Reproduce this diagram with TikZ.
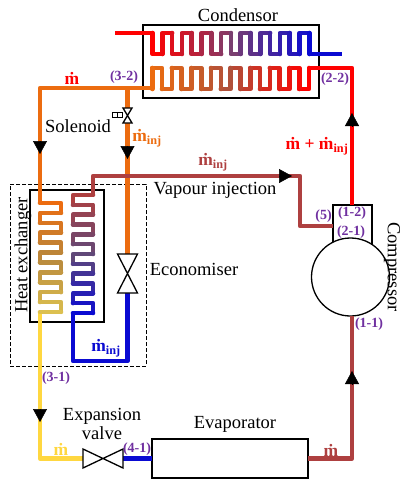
\documentclass[tikz,border=0pt]{standalone}
\usepackage{fontspec}
\setmainfont{Liberation Serif}
\usetikzlibrary{arrows.meta}
\definecolor{hotred}{HTML}{FF0000}
\definecolor{coldblue}{HTML}{0A0AD2}
\definecolor{pipeorange}{HTML}{EC6C10}
\definecolor{pipebrown}{HTML}{AE4040}
\definecolor{pipeyellow}{HTML}{FFD740}
\definecolor{coilyellow}{HTML}{DCC050}
\definecolor{topmid}{HTML}{7A3F70}
\definecolor{lowmid}{HTML}{B0503A}
\definecolor{leftmid}{HTML}{B8883C}
\definecolor{rightmid}{HTML}{604878}
\definecolor{statepurple}{HTML}{7030A0}
\tikzset{
  pipe/.style={line width=4.4pt,line join=round},
  coil/.style={line width=4.6pt,line cap=round,line join=round},
  box/.style={draw,line width=1.3pt,inner sep=0pt,outer sep=0pt},
  valve/.style={inner sep=0pt,outer sep=0pt},
  flow/.style={-{Triangle[length=13pt,width=14pt]},line width=.5pt},
  title/.style={inner sep=0pt,align=center,font=\fontsize{18.5}{19}\selectfont},
  flowrate/.style={inner sep=0pt,font=\fontsize{17.5}{19}\selectfont\bfseries},
  state/.style={inner sep=0pt,text=statepurple,font=\fontsize{14}{15}\selectfont\bfseries}
}
% colour runs along the coil, one leg at a time
\newcommand{\legcolour}[5]{%
  \pgfmathsetmacro{\pct}{200*#1/#2}
  \ifdim\pct pt<100pt
    \colorlet{legcol}{#4!\pct!#3}
  \else
    \pgfmathsetmacro{\pctb}{\pct-100}
    \colorlet{legcol}{#5!\pctb!#4}
  \fi}
\newcommand{\vcoil}[8]{%
  \foreach \i in {0,...,#4}{
    \legcolour{\i}{#4}{#1}{#2}{#3}
    \pgfmathsetmacro{\xa}{#5+\i*#6}
    \pgfmathsetmacro{\xb}{#5+(\i+1)*#6}
    \pgfmathsetmacro{\ya}{isodd(\i)?#8:#7}
    \pgfmathsetmacro{\yb}{isodd(\i)?#7:#8}
    \ifnum\i<#4
      \draw[coil,legcol] (\xa,\ya) -- (\xa,\yb) -- (\xb,\yb);
    \else
      \draw[coil,legcol] (\xa,\ya) -- (\xa,\yb);
    \fi
  }}
\newcommand{\hcoil}[8]{%
  \foreach \i in {0,...,#4}{
    \legcolour{\i}{#4}{#1}{#2}{#3}
    \pgfmathsetmacro{\ya}{#5+\i*#6}
    \pgfmathsetmacro{\yb}{#5+(\i+1)*#6}
    \pgfmathsetmacro{\xa}{isodd(\i)?#8:#7}
    \pgfmathsetmacro{\xb}{isodd(\i)?#7:#8}
    \ifnum\i<#4
      \draw[coil,legcol] (\xa,\ya) -- (\xb,\ya) -- (\xb,\yb);
    \else
      \draw[coil,legcol] (\xa,\ya) -- (\xb,\ya);
    \fi
  }}
\newcommand{\valvecross}[1]{%
  \draw[line width=1.3pt,fill=white] (#1.north west) -- (#1.south east) -- (#1.south west) -- (#1.north east) -- cycle;}
\newcommand{\valvecrossh}[1]{%
  \draw[line width=1.3pt,fill=white] (#1.north west) -- (#1.south east) -- (#1.north east) -- (#1.south west) -- cycle;}
\begin{document}
\begin{tikzpicture}[x=1pt,y=-1pt]
  \useasboundingbox (0,0) rectangle (401,479);
  % components
  \node[valve,minimum width=9pt,minimum height=15pt] (sol) at (127.5,115.5) {};
  \node[valve,minimum width=20pt,minimum height=39pt] (eco) at (127.5,273.5) {};
  \node[valve,minimum width=40pt,minimum height=19pt] (exp) at (103,458.5) {};
  \node[box,minimum width=176pt,minimum height=73pt] (cond) at (231,61.5) {};
  \node[box,minimum width=74pt,minimum height=132pt] (hx) at (67,256) {};
  \node[box,minimum width=156pt,minimum height=39pt] (evap) at (230,458.5) {};
  \node[box,fill=white,minimum width=39pt,minimum height=42pt] (inlet) at (352.5,226) {};
  \node[box,circle,fill=white,minimum size=78pt] (comp) at (350.5,277) {};
  \node[draw,dash pattern=on 4pt off 2pt,line width=.8pt,inner sep=0pt,minimum width=136pt,minimum height=182pt] (hxzone) at (78,275) {};
  % pipe ends
  \coordinate (hotin) at (115,33);
  \coordinate (hotout) at (342,54);
  \coordinate (coolin) at (309,68);
  \coordinate (coolout) at (152,88);
  \coordinate (split) at (127.5,88);
  \coordinate (leftcorner) at (40,88);
  \coordinate (liqin) at (40,203);
  \coordinate (liqout) at (40,312);
  \coordinate (liqcorner) at (40,458.5);
  \coordinate (injin) at (73,313);
  \coordinate (injcorner) at (73,361);
  \coordinate (injout) at (93,195);
  \coordinate (injbend) at (300,176);
  \coordinate (dis) at (352,205);
  \coordinate (discorner) at (352,68);
  \coordinate (suc) at (352,316);
  \coordinate (succorner) at (352,458.5);
  % arrows
  \coordinate (a1) at (40,141);
  \coordinate (a1t) at (40,154);
  \coordinate (a2) at (127.5,146);
  \coordinate (a2t) at (127.5,159);
  \coordinate (a3) at (40,409);
  \coordinate (a3t) at (40,422);
  \coordinate (a4) at (352,384);
  \coordinate (a4t) at (352,371);
  \coordinate (a5) at (352,126);
  \coordinate (a5t) at (352,113);
  \coordinate (a6) at (279,176);
  \coordinate (a6t) at (292,176);
  % pipes
  \draw[pipe,hotred] (hotin) -- (152.5,33);
  \draw[pipe,coldblue] (309,54) -- (hotout);
  \draw[pipe,hotred] (dis) -- (discorner) -- (coolin);
  \draw[pipe,pipeorange] (coolout) -- (leftcorner) -- (liqin);
  \draw[pipe,pipeorange] (split) -- (sol.north);
  \draw[pipe,pipeorange] (sol.south) -- (eco.north);
  \draw[pipe,pipeyellow] (liqout) -- (liqcorner) -- (exp.west);
  \draw[pipe,coldblue] (injin) -- (injcorner) -| (eco.south);
  \draw[pipe,coldblue] (exp.east) -- (evap.west);
  \draw[pipe,pipebrown] (injout) |- (injbend) |- (inlet.west);
  \draw[pipe,pipebrown] (evap.east) -- (succorner) -- (suc);
  % coils
  \vcoil{hotred}{topmid}{coldblue}{16}{152.5}{9.8}{33}{54}
  \vcoil{hotred}{lowmid}{pipeorange}{16}{309}{-9.8}{68}{89}
  \hcoil{pipeorange}{leftmid}{coilyellow}{11}{203}{9.9}{40}{61}
  \hcoil{pipebrown}{rightmid}{coldblue}{12}{195}{9.83}{93}{73}
  % valves
  \valvecross{sol}
  \valvecross{eco}
  \valvecrossh{exp}
  \node[draw,line width=.9pt,fill=white,inner sep=0pt,minimum width=10pt,minimum height=4.5pt] (solcoil) at (117,115) {};
  \draw[line width=.9pt] (solcoil.north) -- (solcoil.south);
  \draw[flow] (a1) -- (a1t);
  \draw[flow] (a2) -- (a2t);
  \draw[flow] (a3) -- (a3t);
  \draw[flow] (a4) -- (a4t);
  \draw[flow] (a5) -- (a5t);
  \draw[flow] (a6) -- (a6t);
  % labels
  \node[title] (condlbl) at (238,15) {Condensor};
  \node[title] (evaplbl) at (235,424) {Evaporator};
  \node[title] (explbl) at (102,424) {Expansion\\valve};
  \node[title] (sollbl) at (78,126) {Solenoid};
  \node[title] (ecolbl) at (194,269) {Economiser};
  \node[title] (vaplbl) at (215,190) {Vapour injection};
  \node[title,rotate=90] (hxlbl) at (23,255) {Heat exchanger};
  \node[title,rotate=-90] (complbl) at (392,267) {Compressor};
  \node[flowrate,text=hotred] (m1) at (72,78) {ṁ};
  \node[flowrate,text=pipeorange] (m2) at (147,138) {ṁ\textsubscript{inj}};
  \node[flowrate,text=pipebrown] (m3) at (213,162) {ṁ\textsubscript{inj}};
  \node[flowrate,text=hotred] (m4) at (317,146) {ṁ + ṁ\textsubscript{inj}};
  \node[flowrate,text=coldblue] (m5) at (106,348) {ṁ\textsubscript{inj}};
  \node[flowrate,text=pipeyellow] (m6) at (61,449) {ṁ};
  \node[flowrate,text=pipebrown] (m7) at (331,450) {ṁ};
  \node[state] (s32) at (124,77) {(3-2)};
  \node[state] (s22) at (335,79) {(2-2)};
  \node[state] (s5) at (323.5,216) {(5)};
  \node[state] (s12) at (352,213) {(1-2)};
  \node[state] (s21) at (351,232) {(2-1)};
  \node[state] (s11) at (369,324) {(1-1)};
  \node[state] (s31) at (56,378) {(3-1)};
  \node[state] (s41) at (137,449) {(4-1)};
\end{tikzpicture}
\end{document}
